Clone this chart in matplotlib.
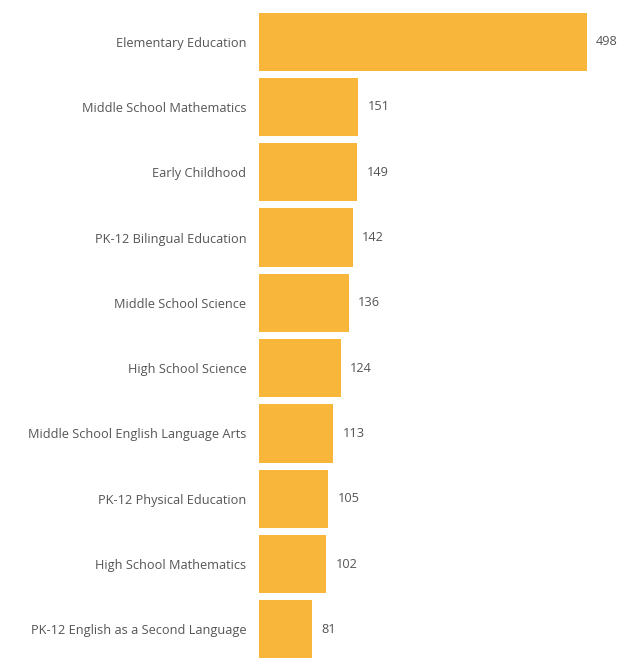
import matplotlib
matplotlib.use('Agg')
import matplotlib.pyplot as plt

# Endorsement areas and counts
areas = [
    'Elementary Education',
    'Middle School Mathematics',
    'Early Childhood',
    'PK-12 Bilingual Education',
    'Middle School Science',
    'High School Science',
    'Middle School English Language Arts',
    'PK-12 Physical Education',
    'High School Mathematics',
    'PK-12 English as a Second Language',
]
counts = [498, 151, 149, 142, 136, 124, 113, 105, 102, 81]

bar_color = '#F8B63B'
text_color = '#555555'

plt.rcParams['font.family'] = ['Open Sans', 'DejaVu Sans']

fig = plt.figure(figsize=(6.41, 6.62), dpi=100)
ax = fig.add_axes([259 / 641, 0.0, 382 / 641, 653 / 662])

y = list(range(len(areas)))
ax.barh(y, counts, height=0.89, color=bar_color)
ax.set_ylim(len(areas) - 0.5, -0.5)
ax.set_xlim(0, 580)

ax.set_yticks(y)
ax.set_yticklabels(areas, fontsize=9.2, color=text_color)
ax.tick_params(axis='y', length=0, pad=9)
ax.set_xticks([])
for s in ax.spines.values():
    s.set_visible(False)

for yi, c in zip(y, counts):
    ax.text(c + 14, yi, str(c), va='center', ha='left', fontsize=9.2, color=text_color)

fig.savefig('out.png', dpi=100, facecolor='white')
